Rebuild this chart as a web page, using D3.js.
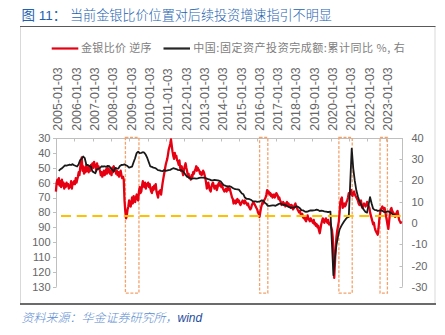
<!DOCTYPE html>
<html><head><meta charset="utf-8">
<script src="https://cdn.jsdelivr.net/npm/d3@7"></script>
<style>
html,body{margin:0;padding:0;background:#fff;}
svg{display:block;}
text{font-family:"Liberation Sans",Arial,"Noto Sans CJK SC",sans-serif;}
</style></head>
<body><svg id="c" width="445" height="335"></svg>
<script>
// ---------------- data ----------------
const titleLabel = "图 11：";
const titleText = "当前金银比价位置对后续投资增速指引不明显";
const sourceText = "资料来源：华金证券研究所，";
const sourceTail = "wind";
const legendRed = "金银比价 逆序";
const legendBlack = "中国:固定资产投资完成额:累计同比 %, 右";

const tickLabels = ["2005-01-03","2006-01-03","2007-01-03","2008-01-03","2009-01-03","2010-01-03",
  "2011-01-03","2012-01-03","2013-01-03","2014-01-03","2015-01-03","2016-01-03","2017-01-03",
  "2018-01-03","2019-01-03","2020-01-03","2021-01-03","2022-01-03","2023-01-03"];
const leftTicks = [30,40,50,60,70,80,90,100,110,120,130];
const rightTicks = [40,30,20,10,0,-10,-20,-30];

// gold/silver ratio, semi-monthly (1st & 16th), from 2005-01-01
const redStartYear = 2005;
const redValues = [
 66,60,58,61,57,62,59,63,58,62,60,64,61,63,60,62,61,64,62,63,59,64,60,61,
 59,61,57,60,58,56,53,55,50,46,43,52,49,54,50,53,48,52,50,53,49,52,48,50,
 47,50,46,49,48,52,47,50,49,51,52,55,53,56,54,52,55,53,51,54,50,53,51,54,
 52,55,50,53,49,52,51,54,52,55,53,56,54,52,55,57,56,58,72,79,84,82,78,76,
 72,75,76,73,70,74,69,72,73,70,68,71,72,66,63,67,66,62,59,62,63,60,64,61,
 62,60,63,61,64,66,67,63,65,62,64,61,66,68,70,66,67,65,68,64,60,57,54,51,
 48,46,44,41,38,36,34,31,35,39,42,44,40,43,42,45,46,48,45,50,52,49,53,55,
 51,49,47,50,52,55,54,57,56,58,55,56,53,54,52,51,49,52,50,51,52,54,53,55,
 54,52,53,55,57,60,64,62,60,63,65,66,63,61,60,62,64,63,62,65,63,61,60,62,
 61,63,62,64,65,66,65,64,66,64,63,65,64,66,68,70,71,74,73,72,74,72,71,73,
 72,74,75,74,73,72,73,74,72,73,74,75,74,76,77,78,77,75,74,73,74,75,76,77,
 78,80,81,83,80,77,75,73,74,72,71,70,68,65,67,66,68,67,69,68,70,69,68,70,
 69,67,68,69,71,70,72,73,75,74,73,75,74,76,74,73,75,74,76,75,77,75,76,78,
 77,75,74,76,77,78,79,80,79,81,82,81,83,84,83,85,86,84,82,84,85,86,84,85,
 86,87,85,88,87,89,88,90,89,92,94,91,88,86,84,86,87,85,84,86,87,85,88,87,
 88,90,92,97,110,124,113,102,96,92,89,86,80,73,71,70,77,75,74,76,75,73,72,70,
 67,68,66,65,68,69,67,66,68,69,70,71,72,74,75,73,72,76,77,75,74,75,76,75,
 73,74,76,77,80,82,84,86,88,87,90,92,93,94,95,91,85,81,78,77,76,77,78,77,
 80,83,86,89,91,86,81,78,77,79,80,82,81,83,82,80,79,82,85,86,87,86
];

// FAI cumulative YoY %, monthly Feb..Dec of each year from 2005 (ends 2023-08)
const faiStartYear = 2005;
const faiValues = [
 24.5,25.3,25.7,26.4,27.1,27.0,27.2,27.5,27.3,27.7,27.2,
 26.6,27.7,29.6,30.3,31.3,30.5,27.4,27.3,26.8,26.6,24.3,
 23.4,25.3,25.5,25.9,26.7,26.6,26.7,26.4,26.9,26.8,25.8,
 24.3,25.9,25.7,25.6,26.8,27.3,27.4,27.6,27.2,26.8,26.1,
 26.5,28.6,30.5,32.9,33.6,32.9,33.0,33.3,33.1,32.1,30.5,
 26.6,26.4,26.1,25.9,25.5,24.9,24.8,24.5,24.4,24.9,24.5,
 24.9,25.0,25.4,25.8,25.6,25.4,25.0,24.9,24.9,24.5,23.8,
 21.8,21.5,21.0,20.8,21.0,21.0,20.9,21.0,21.2,21.4,21.4,
 21.2,20.9,20.6,20.4,20.1,20.1,20.3,20.2,20.1,19.9,19.6,
 17.9,17.6,17.3,17.2,17.3,17.0,16.5,16.1,15.9,15.8,15.7,
 13.9,13.5,12.0,11.4,11.4,11.2,10.9,10.3,10.2,10.2,10.0,
 10.2,10.7,10.5,9.6,9.0,8.1,8.1,8.2,8.3,8.3,8.1,
 8.9,9.2,8.9,8.6,8.6,8.3,7.8,7.5,7.3,7.2,7.2,
 7.9,7.5,7.0,6.1,6.0,5.5,5.3,5.4,5.7,5.9,5.9,
 6.1,6.3,6.1,5.6,5.8,5.7,5.5,5.4,5.2,5.2,5.4,
 -24.5,-16.1,-10.3,-6.3,-3.1,-1.6,-0.3,0.8,1.8,2.6,2.9,
 35.0,25.6,19.9,15.4,12.6,10.3,8.9,7.3,6.1,5.2,4.9,
 12.2,9.3,6.8,6.2,6.1,5.7,5.8,5.9,5.8,5.3,5.1,
 5.5,5.1,4.7,4.0,3.8,3.4,3.2
];

const refLevel = 82.5; // dashed reference on left (inverted) axis
const boxStarts = ["2008-10-19","2016-02-17","2020-06-17","2022-09-16"];
const boxEnds   = ["2009-07-16","2016-07-30","2021-03-10","2023-02-10"];

// ---------------- build ----------------
const parse = d3.timeParse("%Y-%m-%d");
const svg = d3.select("#c");
svg.append("rect").attr("width",445).attr("height",335).attr("fill","#fff");

const plot = {left:56, right:402, top:138, bottom:286.8};
const x = d3.scaleTime().domain([parse("2005-01-03"), parse("2023-01-03")]).range([56, 385.5]);
const yL = d3.scaleLinear().domain([30,130]).range([plot.top, plot.bottom]);
const yR = d3.scaleLinear().domain([40,-30]).range([plot.top, plot.bottom]);

const redData = redValues.map((v,i)=>({d:new Date(redStartYear, Math.floor(i/2), i%2===0?1:16), v}));
const faiData = faiValues.map((v,i)=>{
  const yr = faiStartYear + Math.floor(i/11), m = i%11 + 2; // Feb..Dec
  return {d:new Date(yr, m, 0), v};
});

// frame
svg.append("rect").attr("x",20.5).attr("y",26.5).attr("width",414.5).attr("height",277.5)
  .attr("fill","none").attr("stroke","#d9d9d9").attr("stroke-width",1);
svg.append("line").attr("x1",20).attr("x2",435.5).attr("y1",26.5).attr("y2",26.5)
  .attr("stroke","#595959").attr("stroke-width",1.2);
svg.append("line").attr("x1",20).attr("x2",436).attr("y1",304).attr("y2",304)
  .attr("stroke","#404040").attr("stroke-width",1.5);

// title
svg.append("text").attr("x",21.5).attr("y",20).attr("font-size",13.5).attr("fill","#2161b0")
  .style("font-family",'"Liberation Sans",Arial,"Noto Sans CJK SC",sans-serif').text(titleLabel);
svg.append("text").attr("x",70).attr("y",20).attr("font-size",13.1).attr("fill","#2161b0")
  .style("font-family",'"Noto Sans CJK SC",sans-serif').style("font-weight",300).text(titleText);

// legend
const lg = svg.append("g");
lg.append("line").attr("x1",51.7).attr("x2",78.3).attr("y1",48.5).attr("y2",48.5).attr("stroke","#e60012").attr("stroke-width",2.2);
lg.append("text").attr("x",81).attr("y",48.5).attr("dy","0.36em").attr("font-size",11).attr("fill","#808080")
  .attr("textLength",70.5).attr("lengthAdjust","spacing")
  .style("font-family",'"Noto Sans CJK SC",sans-serif').text(legendRed);
lg.append("line").attr("x1",163.5).attr("x2",190).attr("y1",48.5).attr("y2",48.5).attr("stroke","#262626").attr("stroke-width",2.2);
lg.append("text").attr("x",193.3).attr("y",48.5).attr("dy","0.36em").attr("font-size",11).attr("fill","#808080")
  .attr("textLength",211.5).attr("lengthAdjust","spacing")
  .style("font-family",'"Noto Sans CJK SC",sans-serif').text(legendBlack);

// axes
const axisColor = "#bfbfbf", labelColor = "#666666";
// top date axis
const tickDates = tickLabels.map(parse);
const xa = svg.append("g");
xa.append("line").attr("x1",plot.left).attr("x2",plot.right).attr("y1",plot.top+0.5).attr("y2",plot.top+0.5).attr("stroke",axisColor);
xa.selectAll("line.t").data(tickDates).join("line").attr("class","t")
  .attr("x1",d=>Math.round(x(d))+0.5).attr("x2",d=>Math.round(x(d))+0.5)
  .attr("y1",plot.top).attr("y2",plot.top+3.5).attr("stroke",axisColor);
xa.selectAll("text").data(tickDates).join("text")
  .attr("transform",d=>`translate(${x(d)+2},130.7) rotate(-90)`)
  .attr("dy","0.36em").attr("font-size",12.4).attr("fill",labelColor)
  .text((d,i)=>tickLabels[i]);

// left axis
const la = svg.append("g");
la.append("line").attr("x1",plot.left+0.5).attr("x2",plot.left+0.5).attr("y1",plot.top).attr("y2",plot.bottom).attr("stroke",axisColor);
la.selectAll("line.t").data(leftTicks).join("line").attr("class","t")
  .attr("x1",plot.left-3).attr("x2",plot.left+0.5).attr("y1",d=>Math.round(yL(d))+0.5).attr("y2",d=>Math.round(yL(d))+0.5).attr("stroke",axisColor);
la.selectAll("text").data(leftTicks).join("text")
  .attr("x",50.5).attr("y",d=>yL(d)).attr("dy","0.36em").attr("text-anchor","end")
  .attr("font-size",11).attr("fill",labelColor).text(d=>d);

// right axis
const ra = svg.append("g");
ra.append("line").attr("x1",plot.right+0.5).attr("x2",plot.right+0.5).attr("y1",plot.top).attr("y2",plot.bottom).attr("stroke",axisColor);
ra.selectAll("line.t").data(rightTicks).join("line").attr("class","t")
  .attr("x1",plot.right-2.5).attr("x2",plot.right+0.5).attr("y1",d=>Math.round(yR(d))+0.5).attr("y2",d=>Math.round(yR(d))+0.5).attr("stroke",axisColor);
ra.selectAll("text").data(rightTicks).join("text")
  .attr("x",411.5).attr("y",d=>yR(d)).attr("dy","0.36em").attr("text-anchor","start")
  .attr("font-size",11).attr("fill",labelColor).text(d=>d);

// highlight boxes
svg.selectAll("rect.box").data(boxStarts).join("rect").attr("class","box")
  .attr("x",(d)=>x(parse(d))).attr("width",(d,i)=>x(parse(boxEnds[i]))-x(parse(d)))
  .attr("y",plot.top-0.5).attr("height",yL(134.3)-plot.top+0.5)
  .attr("fill","none").attr("stroke","#f4a26b").attr("stroke-width",1.3).attr("stroke-dasharray","3,1.6");

// red line
svg.append("path").datum(redData)
  .attr("d",d3.line().x(d=>x(d.d)).y(d=>yL(d.v)))
  .attr("fill","none").attr("stroke","#e60012").attr("stroke-width",2.3).attr("stroke-linejoin","round");

// black line
svg.append("path").datum(faiData)
  .attr("d",d3.line().x(d=>x(d.d)).y(d=>yR(d.v)))
  .attr("fill","none").attr("stroke","#1a1a1a").attr("stroke-width",1.8).attr("stroke-linejoin","round");

// reference dashed line
svg.append("line").attr("x1",61).attr("x2",plot.right).attr("y1",yL(refLevel)).attr("y2",yL(refLevel))
  .attr("stroke","#ffc000").attr("stroke-width",2).attr("stroke-dasharray","10,5.7");

// source
const src = svg.append("text").attr("x",21.5).attr("y",322).attr("font-size",12).attr("font-style","italic");
src.append("tspan").attr("fill","#5b8bd0").style("font-family",'"Noto Sans CJK SC",sans-serif').style("font-weight",300).text(sourceText);
src.append("tspan").attr("fill","#1f4e9e").style("font-family",'"Liberation Sans",Arial,sans-serif').text(sourceTail);
</script></body></html>
